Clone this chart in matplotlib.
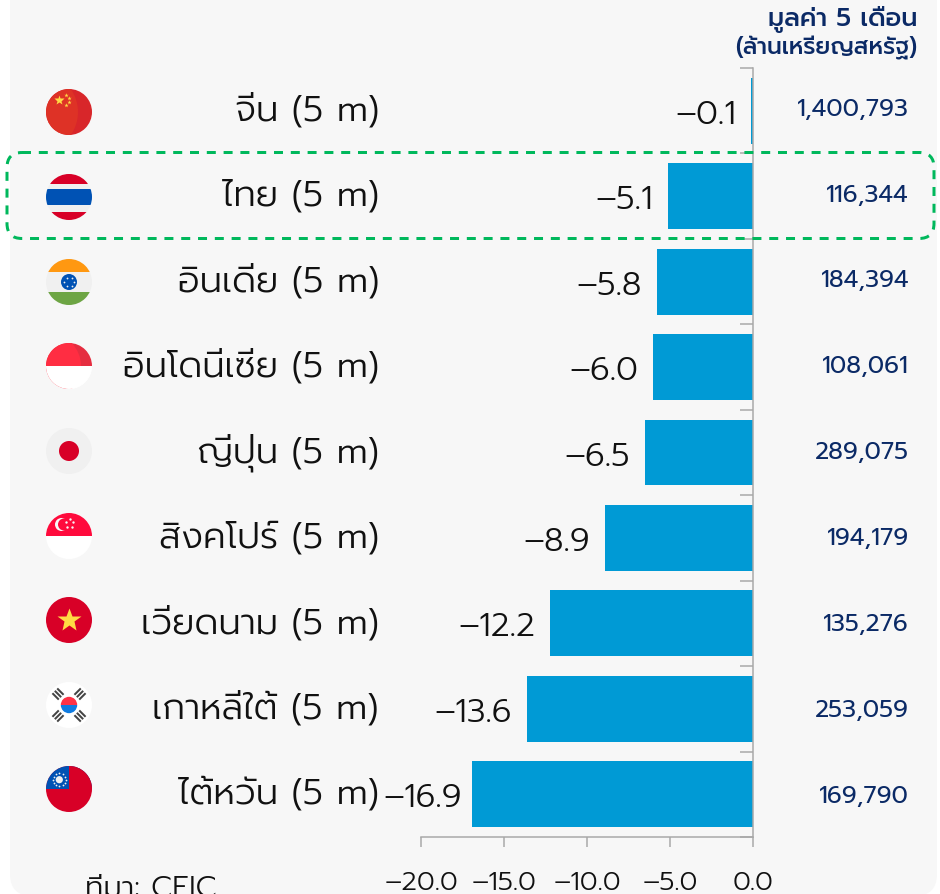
import numpy as np
import matplotlib
matplotlib.use('Agg')
import matplotlib.pyplot as plt
from matplotlib import patches, transforms

## data
countries = ['จีน', 'ไทย', 'อินเดีย', 'อินโดนีเซีย', 'ญี่ปุ่น', 'สิงคโปร์', 'เวียดนาม', 'เกาหลีใต้', 'ไต้หวัน']
growth = [-0.1, -5.1, -5.8, -6.0, -6.5, -8.9, -12.2, -13.6, -16.9]
value_5m = [1400793, 116344, 184394, 108061, 289075, 194179, 135276, 253059, 169790]
xticks = [-20, -15, -10, -5, 0]
xlabels = ['–20.0', '–15.0', '–10.0', '–5.0', '0.0']

W, H = 940, 895
NUM_FONT = ['Prompt', 'Noto Sans Thai', 'DejaVu Sans']
NAVY = '#0b2a66'
BAR = '#009ad5'
AXIS = '#a8a8a8'
px = 0.72  # pixels to points at dpi 100

fig = plt.figure(figsize=(W / 100, H / 100), dpi=100, facecolor='white')

# full figure axes in pixels, y going down: panel, highlight box, flags
bg = fig.add_axes([0, 0, 1, 1], zorder=0)
bg.set_xlim(0, W)
bg.set_ylim(H, 0)
bg.axis('off')

bg.add_patch(patches.FancyBboxPatch((10, -60), 927, 957, boxstyle='round,pad=0,rounding_size=22',
                                    fc='#f7f7f7', ec='none', zorder=0))


def flag_base(cy, color):
    cx = 69
    clip = patches.Circle((cx, cy), 23, transform=bg.transData)
    base = patches.Circle((cx, cy), 23, fc=color, ec='none', zorder=2)
    bg.add_patch(base)
    return cx, clip


def clipped(p, clip, z=3):
    bg.add_patch(p)
    p.set_zorder(z)
    p.set_clip_path(clip)
    return p


def band(y0, y1, color, clip, z=3):
    return clipped(patches.Rectangle((46, y0), 46, y1 - y0, fc=color, ec='none'), clip, z)


def mark(x, y, m, size, color, z=5):
    bg.plot([x], [y], marker=m, ms=size * px, mfc=color, mec='none', ls='none', zorder=z)


# china
cx, clip = flag_base(113, '#d8262a')
clipped(patches.Circle((38, 113), 40, fc='#de3226', ec='none'), clip)
mark(59, 101, '*', 11, '#ffda44')
for sx, sy in [(66.3, 96), (69.3, 99), (69, 103.3), (66.3, 106.3)]:
    mark(sx, sy, '*', 4.5, '#ffda44')

# thailand
cx, clip = flag_base(198, '#f0f0f0')
band(170, 184.5, '#d80027', clip)
band(190, 206, '#0052b4', clip)
band(212.5, 226, '#d80027', clip)

# india
cx, clip = flag_base(283, '#f0f0f0')
band(255, 273, '#ff9811', clip)
band(292.5, 310, '#6da544', clip)
bg.add_patch(patches.Circle((69, 283), 8, fc='#0052b4', ec='none', zorder=4))
for a in np.deg2rad([0, 60, 120, 180, 240, 300]):
    mark(69 + 5 * np.cos(a), 283 + 5 * np.sin(a), 'o', 1.8, '#f0f0f0')

# indonesia
cx, clip = flag_base(367, '#ffffff')
band(340, 367, '#e52d40', clip)
clipped(patches.Circle((48, 367), 33, fc='#ff2d42', ec='none'), clip, 4)
band(367, 395, '#ffffff', clip, 5)

# japan
cx, clip = flag_base(452, '#f0f0f0')
bg.add_patch(patches.Circle((69, 452), 10, fc='#d80027', ec='none', zorder=4))

# singapore
cx, clip = flag_base(537, '#ffffff')
band(510, 537, '#ff0a3c', clip)
bg.add_patch(patches.Circle((61.5, 525.5), 6.5, fc='#f7f7f7', ec='none', zorder=4))
bg.add_patch(patches.Circle((64, 525.5), 6, fc='#ff0a3c', ec='none', zorder=4))
for a in np.deg2rad([-90, -18, 54, 126, 198]):
    mark(69.5 + 4.2 * np.cos(a), 524.5 + 4.2 * np.sin(a), 'o', 2.4, '#f7f7f7')

# vietnam
cx, clip = flag_base(621, '#d80027')
mark(69, 621, '*', 25, '#ffda44')

# korea
cx, clip = flag_base(706, '#ffffff')
clipped(patches.Wedge((69, 706), 8.2, 180, 360, fc='#ff3347', ec='none'), clip, 4)
clipped(patches.Wedge((69, 706), 8.2, 0, 180, fc='#0f7be0', ec='none'), clip, 4)
for tx, ty, ang in [(58, 695, 45), (80, 695, -45), (58, 717, -45), (80, 717, 45)]:
    tr = transforms.Affine2D().rotate_deg_around(tx, ty, ang) + bg.transData
    for dy in (-3.4, 0, 3.4):
        bg.add_patch(patches.Rectangle((tx - 4.5, ty + dy - 1), 9, 2, fc='#444444', ec='none', zorder=4, transform=tr))

# taiwan
cx, clip = flag_base(790, '#d80027')
band(760, 790, '#0052b4', clip)
clipped(patches.Rectangle((69, 760), 30, 30, fc='#d80027', ec='none'), clip, 4)
bg.add_patch(patches.Circle((59.3, 780.7), 3.6, fc='#f0f0f0', ec='none', zorder=5))
for a in np.deg2rad(np.arange(0, 360, 30)):
    mark(59.3 + 6.4 * np.cos(a), 780.7 + 6.4 * np.sin(a), 'o', 1.8, '#f0f0f0')

# bars
ax = fig.add_axes([421 / W, 1 - 838 / H, 332 / W, 769 / H], zorder=1)
ax.patch.set_visible(False)
y = np.arange(len(countries))
ax.barh(y, growth, height=0.77, color=BAR, zorder=2)
ax.set_xlim(-20, 0)
ax.set_ylim(len(countries) - 0.5, -0.5)

for s in ['top', 'left']:
    ax.spines[s].set_visible(False)
for s in ['right', 'bottom']:
    ax.spines[s].set_color(AXIS)
    ax.spines[s].set_linewidth(1.5 * px)
    ax.spines[s].set_zorder(3)

ax.yaxis.tick_right()
ax.set_yticks(np.arange(len(countries) + 1) - 0.5)
ax.set_yticklabels([])
ax.tick_params(axis='y', direction='in', length=13 * px, width=1.5 * px, color=AXIS)
ax.set_xticks(xticks)
ax.set_xticklabels(xlabels, family=NUM_FONT, weight=300, fontsize=27 * px, color='#111111')
ax.tick_params(axis='x', direction='out', length=10 * px, width=1.5 * px, color=AXIS, pad=23 * px)

trans = ax.get_yaxis_transform()
for i in y:
    ax.text(-42 / 332, i - 0.01, countries[i] + ' (5 m)', transform=trans, ha='right', va='center',
            family=NUM_FONT, weight=300, fontsize=36 * px, color='#111111')
    # the longest bar's label is pushed in by its neighbour in the reference
    gap = 11 if growth[i] < -15 else 15
    ax.annotate(f'{growth[i]:.1f}'.replace('-', '–'), (growth[i], i), xytext=(-gap * px, 0),
                textcoords='offset points', ha='right', va='center_baseline',
                family=NUM_FONT, weight=300, fontsize=33 * px, color='#111111')
    ax.text(488 / 332, i * 1.005 - 0.03, f'{value_5m[i]:,}', transform=trans, ha='right', va='center',
            family=NUM_FONT, weight=400, fontsize=24.3 * px, color=NAVY)

# highlight box over the thai row
bg2 = fig.add_axes([0, 0, 1, 1], zorder=2)
bg2.set_xlim(0, W)
bg2.set_ylim(H, 0)
bg2.axis('off')
bg2.add_patch(patches.FancyBboxPatch((7, 153.5), 927, 86, boxstyle='round,pad=0,rounding_size=15',
                                     fc='none', ec='#00b85c', lw=3 * px, ls=(0, (3, 2.6))))

# header and source
bg2.text(917, 19, 'มูลค่า 5 เดือน', ha='right', va='center', family=NUM_FONT, weight=500,
         fontsize=25.5 * px, color=NAVY)
bg2.text(917, 48, '(ล้านเหรียญสหรัฐ)', ha='right', va='center', family=NUM_FONT, weight=500,
         fontsize=23.3 * px, color=NAVY)
bg2.text(85, 889, 'ที่มา: CEIC', ha='left', va='center', family=NUM_FONT, weight=300,
         fontsize=29.5 * px, color='#111111')

fig.savefig('out.png', dpi=100)
